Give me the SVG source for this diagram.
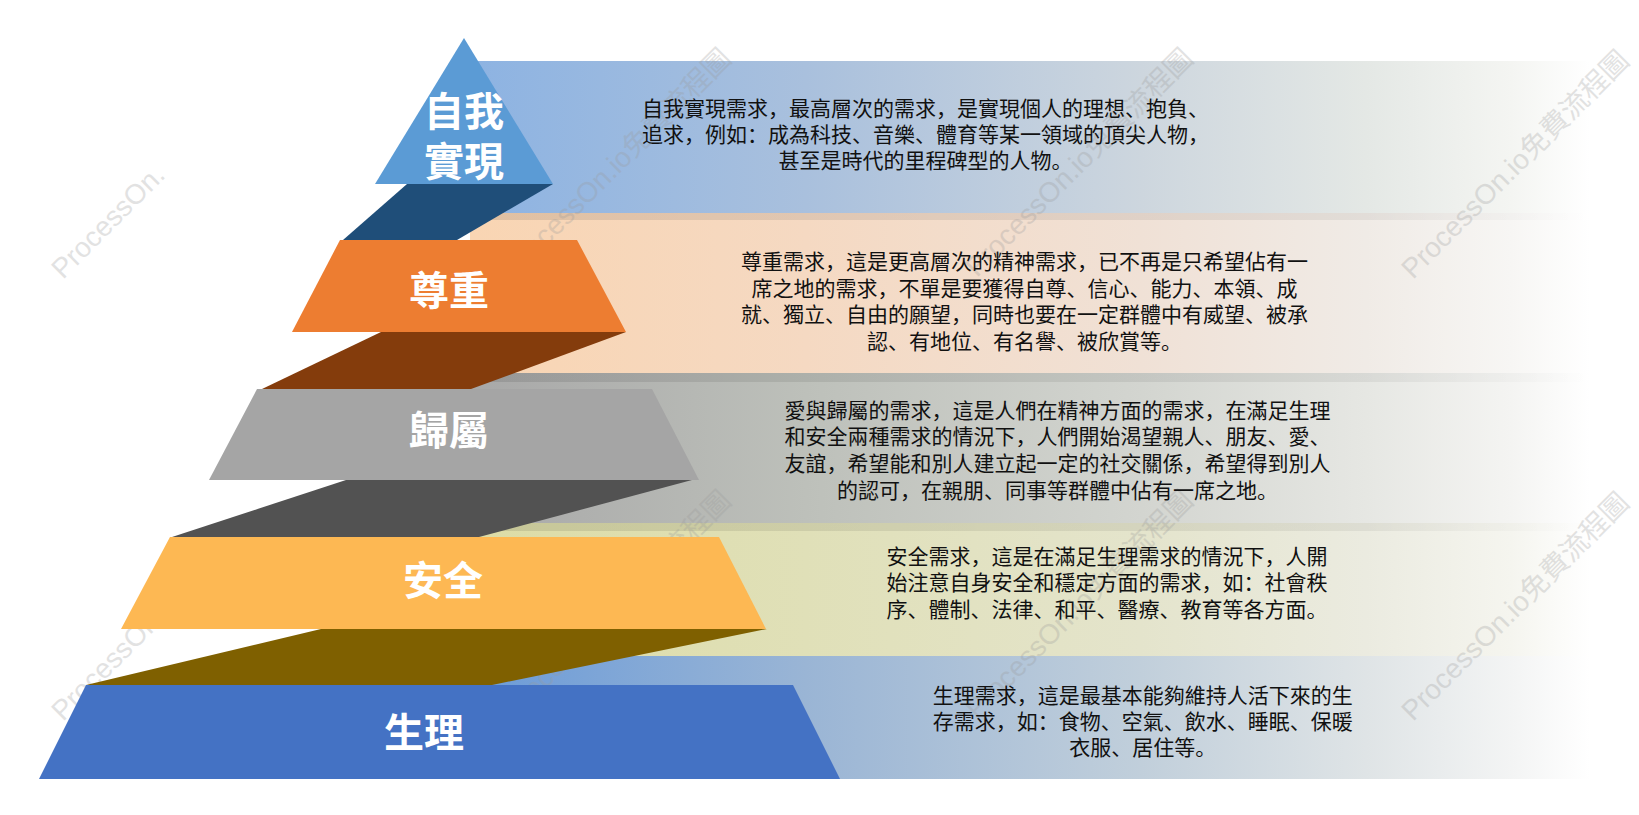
<svg xmlns="http://www.w3.org/2000/svg" width="1639" height="815" viewBox="0 0 1639 815">
<style>
.lbl{font-family:"Liberation Sans","Noto Sans CJK SC",sans-serif;font-size:40px;font-weight:bold;fill:#ffffff;text-anchor:middle}
.desc{font-family:"Liberation Sans","Noto Sans CJK SC",sans-serif;font-size:21px;fill:#111111;text-anchor:middle}
.wm{font-family:"Liberation Sans","Noto Sans CJK SC",sans-serif;font-size:28px;fill:#9a9a9a;opacity:0.28}
</style>
<defs>
<linearGradient id="g1" gradientUnits="userSpaceOnUse" x1="470" y1="0" x2="1590" y2="0">
<stop offset="0" stop-color="#8db3e2"/><stop offset="0.3" stop-color="#a9c0dd"/><stop offset="0.6" stop-color="#cdd6de"/><stop offset="0.8" stop-color="#e4e8e5"/><stop offset="0.93" stop-color="#f4f5f2"/><stop offset="1" stop-color="#ffffff"/>
</linearGradient>
<linearGradient id="g2" gradientUnits="userSpaceOnUse" x1="470" y1="0" x2="1590" y2="0">
<stop offset="0" stop-color="#f9d5b3"/><stop offset="0.3" stop-color="#f5d9c2"/><stop offset="0.6" stop-color="#f0e1d6"/><stop offset="0.8" stop-color="#f0ebe6"/><stop offset="0.93" stop-color="#f7f6f4"/><stop offset="1" stop-color="#ffffff"/>
</linearGradient>
<linearGradient id="g3" gradientUnits="userSpaceOnUse" x1="470" y1="0" x2="1590" y2="0">
<stop offset="0" stop-color="#a8a8a8"/><stop offset="0.3" stop-color="#bdc0ba"/><stop offset="0.6" stop-color="#d3d5d0"/><stop offset="0.8" stop-color="#e6e7e3"/><stop offset="0.93" stop-color="#f4f4f2"/><stop offset="1" stop-color="#ffffff"/>
</linearGradient>
<linearGradient id="g4" gradientUnits="userSpaceOnUse" x1="470" y1="0" x2="1590" y2="0">
<stop offset="0" stop-color="#dcdca6"/><stop offset="0.3" stop-color="#e0e0b8"/><stop offset="0.6" stop-color="#e4e4cc"/><stop offset="0.8" stop-color="#ebebe0"/><stop offset="0.93" stop-color="#f5f5ef"/><stop offset="1" stop-color="#ffffff"/>
</linearGradient>
<linearGradient id="g5" gradientUnits="userSpaceOnUse" x1="470" y1="0" x2="1590" y2="0">
<stop offset="0" stop-color="#6b9bd8"/><stop offset="0.3" stop-color="#9ab5d5"/><stop offset="0.6" stop-color="#c1cfdb"/><stop offset="0.8" stop-color="#dfe4e6"/><stop offset="0.93" stop-color="#f3f4f4"/><stop offset="1" stop-color="#ffffff"/>
</linearGradient>
<linearGradient id="gs" gradientUnits="userSpaceOnUse" x1="470" y1="0" x2="1590" y2="0">
<stop offset="0" stop-color="#000000" stop-opacity="0.1"/><stop offset="0.8" stop-color="#000000" stop-opacity="0.06"/><stop offset="1" stop-color="#000000" stop-opacity="0"/>
</linearGradient>
</defs>
<rect x="0" y="0" width="1639" height="815" fill="#ffffff"/>
<g id="bands">
<rect x="477" y="61" width="1112" height="152" fill="url(#g1)"/>
<rect x="470" y="213" width="1119" height="160" fill="url(#g2)"/>
<rect x="465" y="373" width="1124" height="150" fill="url(#g3)"/>
<rect x="465" y="523" width="1124" height="133" fill="url(#g4)"/>
<rect x="480" y="656" width="1109" height="123" fill="url(#g5)"/>
<rect x="470" y="213" width="1119" height="7" fill="url(#gs)"/>
<rect x="465" y="373" width="1124" height="9" fill="url(#gs)"/>
<rect x="465" y="523" width="1124" height="8" fill="url(#gs)"/>
</g>
<g id="watermarks">
<text class="wm" transform="translate(63,280) rotate(-45)">ProcessOn.</text>
<text class="wm" transform="translate(515,278) rotate(-45)">ProcessOn.io免費流程圖</text>
<text class="wm" transform="translate(977,278) rotate(-45)">ProcessOn.io免費流程圖</text>
<text class="wm" transform="translate(1413,280) rotate(-45)">ProcessOn.io免費流程圖</text>
<text class="wm" transform="translate(63,722) rotate(-45)">ProcessOn.</text>
<text class="wm" transform="translate(515,720) rotate(-45)">ProcessOn.io免費流程圖</text>
<text class="wm" transform="translate(977,720) rotate(-45)">ProcessOn.io免費流程圖</text>
<text class="wm" transform="translate(1413,722) rotate(-45)">ProcessOn.io免費流程圖</text>
</g>
<g id="level-self-actualization">
<polygon points="407,184 553,184 457,240 343,240" fill="#1f4e79"/>
<polygon points="464,38 553,184 375,184" fill="#5b9bd5"/>
<text class="lbl" x="464" y="126">自我</text>
<text class="lbl" x="464" y="176">實現</text>
<text class="desc" x="925.5" y="116">自我實現需求，最高層次的需求，是實現個人的理想、抱負、</text>
<text class="desc" x="925.5" y="142">追求，例如：成為科技、音樂、體育等某一領域的頂尖人物，</text>
<text class="desc" x="925.5" y="168">甚至是時代的里程碑型的人物。</text>
</g>
<g id="level-esteem">
<polygon points="381,332 626,332 471,389 262,389" fill="#843c0c"/>
<polygon points="340,240 577,240 626,332 292,332" fill="#ed7d31"/>
<text class="lbl" x="449" y="305">尊重</text>
<text class="desc" x="1024.5" y="269">尊重需求，這是更高層次的精神需求，已不再是只希望佔有一</text>
<text class="desc" x="1024.5" y="295.5">席之地的需求，不單是要獲得自尊、信心、能力、本領、成</text>
<text class="desc" x="1024.5" y="322">就、獨立、自由的願望，同時也要在一定群體中有威望、被承</text>
<text class="desc" x="1024.5" y="348.5">認、有地位、有名譽、被欣賞等。</text>
</g>
<g id="level-belonging">
<polygon points="346,480 692,480 479,537 172,537" fill="#525252"/>
<polygon points="257,389 652,389 699,480 209,480" fill="#a5a5a5"/>
<text class="lbl" x="449" y="445">歸屬</text>
<text class="desc" x="1057.5" y="418">愛與歸屬的需求，這是人們在精神方面的需求，在滿足生理</text>
<text class="desc" x="1057.5" y="444">和安全兩種需求的情況下，人們開始渴望親人、朋友、愛、</text>
<text class="desc" x="1057.5" y="471">友誼，希望能和別人建立起一定的社交關係，希望得到別人</text>
<text class="desc" x="1057.5" y="498">的認可，在親朋、同事等群體中佔有一席之地。</text>
</g>
<g id="level-safety">
<polygon points="321,629 767,629 492,685 86,685" fill="#7f6000"/>
<polygon points="170,537 719,537 766,629 121,629" fill="#fdb853"/>
<text class="lbl" x="443" y="595">安全</text>
<text class="desc" x="1107" y="564">安全需求，這是在滿足生理需求的情況下，人開</text>
<text class="desc" x="1107" y="590">始注意自身安全和穩定方面的需求，如：社會秩</text>
<text class="desc" x="1107" y="617">序、體制、法律、和平、醫療、教育等各方面。</text>
</g>
<g id="level-physiological">
<polygon points="86,685 793,685 840,779 39,779" fill="#4472c4"/>
<text class="lbl" x="424" y="747">生理</text>
<text class="desc" x="1142.7" y="703">生理需求，這是最基本能夠維持人活下來的生</text>
<text class="desc" x="1142.7" y="729">存需求，如：食物、空氣、飲水、睡眠、保暖</text>
<text class="desc" x="1142.7" y="755">衣服、居住等。</text>
</g>
</svg>
